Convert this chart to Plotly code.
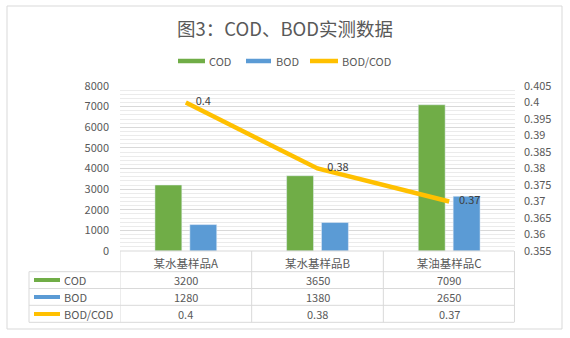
import numpy as np
import plotly.graph_objects as go

# ---- data ----
categories = ["某水基样品A", "某水基样品B", "某油基样品C"]
cod_values = [3200, 3650, 7090]
bod_values = [1280, 1380, 2650]
ratio_values = [0.4, 0.38, 0.37]
series_names = ["COD", "BOD", "BOD/COD"]
left_ticks = list(range(0, 8001, 1000))
right_ticks = [0.355, 0.36, 0.365, 0.37, 0.375, 0.38, 0.385, 0.39, 0.395, 0.4, 0.405]

# ---- styling ----
C_COD = "#70AD47"
C_BOD = "#5B9BD5"
C_RATIO = "#FFC000"
TXT = "#595959"
GRID = "#D9D9D9"
MINOR = "#EBEBEB"
FONT = "Noto Sans CJK SC, Noto Sans, sans-serif"

W, H = 570, 338
PL, PR, PT, PB = 120, 515, 86, 251  # plot area in pixels


def fx(px):
    return (px - PL) / (PR - PL)


def fy(py):
    return (PB - py) / (PB - PT)


fig = go.Figure()
fig.add_trace(go.Bar(x=categories, y=cod_values, name=series_names[0],
                     marker_color=C_COD, showlegend=False))
fig.add_trace(go.Bar(x=categories, y=bod_values, name=series_names[1],
                     marker_color=C_BOD, showlegend=False))
fig.add_trace(go.Scatter(x=categories, y=ratio_values, name=series_names[2],
                         yaxis="y2", mode="lines+text",
                         line=dict(color=C_RATIO, width=4.5),
                         text=[f"    {v:g}" for v in ratio_values],
                         textposition="middle right",
                         textfont=dict(size=11, color="#404040", family=FONT),
                         showlegend=False, cliponaxis=False))

shapes = []
annotations = []

# outer frame
shapes.append(dict(type="rect", xref="paper", yref="paper",
                   x0=fx(7), x1=fx(562), y0=fy(6), y1=fy(329),
                   line=dict(color=GRID, width=1), layer="below"))

# legend row
legend_items = [
    (series_names[0], C_COD, 178, 205, 207),
    (series_names[1], C_BOD, 246, 271, 274),
    (series_names[2], C_RATIO, 310, 338, 340),
]
for name, col, sx0, sx1, tx in legend_items:
    shapes.append(dict(type="line", xref="paper", yref="paper",
                       x0=fx(sx0), x1=fx(sx1), y0=fy(61), y1=fy(61),
                       line=dict(color=col, width=4.5)))
    annotations.append(dict(xref="paper", yref="paper", x=fx(tx), y=fy(61),
                            text=name, showarrow=False, xanchor="left",
                            yanchor="middle",
                            font=dict(size=11, color=TXT, family=FONT)))

# data table under the plot
row_lines = [251, 271.7, 288.5, 305.3, 322.3]
row_centers = [280, 297, 314]
TL = 29
for i, yl in enumerate(row_lines):
    x0 = fx(PL) if i == 0 else fx(TL)
    shapes.append(dict(type="line", xref="paper", yref="paper",
                       x0=x0, x1=fx(PR - 1), y0=fy(yl), y1=fy(yl),
                       line=dict(color=GRID, width=1)))
shapes.append(dict(type="line", xref="paper", yref="paper",
                   x0=fx(TL), x1=fx(TL), y0=fy(row_lines[1]), y1=fy(row_lines[-1]),
                   line=dict(color=GRID, width=1)))
for xb in [-0.5, 0.5, 1.5, 2.5]:
    shapes.append(dict(type="line", xref="x", yref="paper",
                       x0=xb - (0.004 if xb == 2.5 else 0),
                       x1=xb - (0.004 if xb == 2.5 else 0),
                       y0=fy(row_lines[0]), y1=fy(row_lines[-1]),
                       line=dict(color=GRID, width=1)))

# key column of the table
key_cols = [C_COD, C_BOD, C_RATIO]
for name, col, yc in zip(series_names, key_cols, row_centers):
    shapes.append(dict(type="line", xref="paper", yref="paper",
                       x0=fx(34), x1=fx(60), y0=fy(yc), y1=fy(yc),
                       line=dict(color=col, width=4)))
    annotations.append(dict(xref="paper", yref="paper", x=fx(62), y=fy(yc),
                            text=name, showarrow=False, xanchor="left",
                            yanchor="middle",
                            font=dict(size=11, color=TXT, family=FONT)))

# table values
table_rows = [
    [str(v) for v in cod_values],
    [str(v) for v in bod_values],
    [f"{v:g}" for v in ratio_values],
]
for row, yc in zip(table_rows, row_centers):
    for cat, txt in zip(categories, row):
        annotations.append(dict(xref="x", yref="paper", x=cat, y=fy(yc),
                                text=txt, showarrow=False, xanchor="center",
                                yanchor="middle",
                                font=dict(size=11, color=TXT, family=FONT)))

fig.update_layout(
    width=W, height=H,
    margin=dict(l=PL, r=W - PR, t=PT, b=H - PB, pad=0),
    paper_bgcolor="white", plot_bgcolor="white",
    font=dict(family=FONT, size=11, color=TXT),
    title=dict(text="图3：COD、BOD实测数据", x=0.5, xref="container",
               xanchor="center", y=1 - 30 / H, yanchor="middle",
               font=dict(size=18.5, color=TXT, family=FONT)),
    barmode="group", bargap=0.47, bargroupgap=0.23,
    showlegend=False,
    xaxis=dict(type="category", range=[-0.5, 2.5], showgrid=False,
               showline=False, zeroline=False, ticks="",
               tickfont=dict(size=11.5, color=TXT, family=FONT),
               ticklabelstandoff=4),
    yaxis=dict(range=[0, 8000], tickvals=left_ticks,
               ticktext=[str(t) for t in left_ticks],
               showgrid=True, gridcolor=GRID, gridwidth=1,
               minor=dict(dtick=200, showgrid=True, gridcolor=MINOR, gridwidth=1),
               zeroline=False, showline=False, ticks="",
               tickfont=dict(size=11, color=TXT, family=FONT),
               ticklabelstandoff=10),
    yaxis2=dict(range=[0.355, 0.405], overlaying="y", side="right",
                tickvals=right_ticks, ticktext=[f"{t:g}" for t in right_ticks],
                showgrid=False, zeroline=False, showline=False, ticks="",
                tickfont=dict(size=11, color=TXT, family=FONT),
                ticklabelstandoff=8),
    shapes=shapes,
    annotations=annotations,
)

fig.write_html("out.html")
